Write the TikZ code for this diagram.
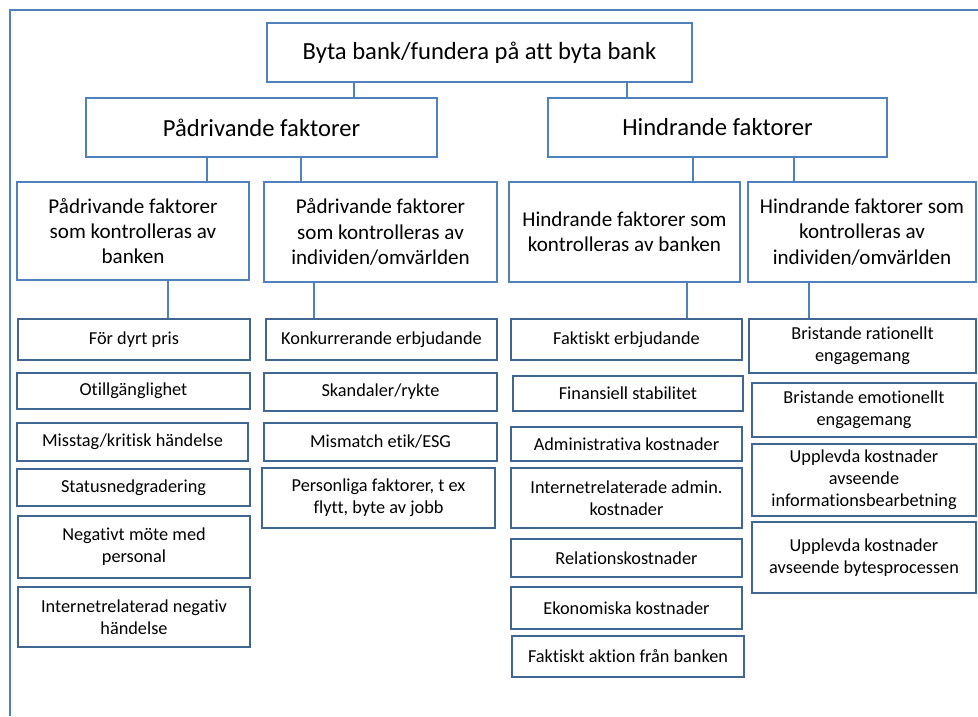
\documentclass[tikz,border=0pt]{standalone}
\usepackage{fontspec}
\setmainfont{Carlito}[Ligatures=NoCommon]
\usetikzlibrary{positioning}

\definecolor{kant}{HTML}{4F81BD}
\definecolor{morkkant}{HTML}{41668F}

\tikzset{
  link/.style={draw=kant, line width=0.9pt},
  rubrik/.style={draw=kant, line width=0.9pt, align=center, inner sep=0pt, font=\fontsize{17.5}{20}\selectfont},
  grupp/.style={draw=kant, line width=0.9pt, align=center, inner sep=0pt, font=\fontsize{15}{18}\selectfont},
  faktor/.style={draw=morkkant, line width=1.1pt, align=center, inner sep=0pt, font=\fontsize{13}{15.5}\selectfont},
}

\begin{document}
\begin{tikzpicture}[x=0.025cm, y=-0.025cm]
  % box from its corners: style, name, x1, y1, x2, y2, text
  \newcommand{\ruta}[7]{\node[#1, minimum width={(#5-#3)*0.025cm}, minimum height={(#6-#4)*0.025cm}] (#2) at ({(#3+#5)/2},{(#4+#6)/2}) {#7};}

  \useasboundingbox (0,0) rectangle (978,716);

  % Outer frame
  \draw[kant, line width=0.9pt] (10,716) -- (10,10) -- (978,10);

  % Top levels
  \ruta{rubrik}{byta}{267}{23}{692}{82}{Byta bank/fundera på att byta bank}
  \ruta{rubrik}{pad}{86}{98}{437}{157}{Pådrivande faktorer}
  \ruta{rubrik}{hin}{548}{98}{887}{157}{Hindrande faktorer}

  \ruta{grupp}{padbank}{17}{182}{249}{280}{Pådrivande faktorer\\som kontrolleras av\\banken}
  \ruta{grupp}{padind}{264}{182}{497}{282}{Pådrivande faktorer\\som kontrolleras av\\individen/omvärlden}
  \ruta{grupp}{hinbank}{509}{182}{740}{282}{Hindrande faktorer som\\kontrolleras av banken}
  \ruta{grupp}{hinind}{748}{182}{976}{282}{Hindrande faktorer som\\kontrolleras av\\individen/omvärlden}

  % Pådrivande, banken
  \ruta{faktor}{pris}{18}{319}{250}{360}{För dyrt pris}
  \ruta{faktor}{otill}{17}{373}{250}{409}{Otillgänglighet}
  \ruta{faktor}{misstag}{17}{423}{248}{461}{Misstag/kritisk händelse}
  \ruta{faktor}{status}{17}{469}{250}{506}{Statusnedgradering}
  \ruta{faktor}{mote}{18}{516}{250}{578}{Negativt möte med\\personal}
  \ruta{faktor}{inetneg}{18}{587}{250}{647}{Internetrelaterad negativ\\händelse}

  % Pådrivande, individen/omvärlden
  \ruta{faktor}{konk}{266}{319}{497}{360}{Konkurrerande erbjudande}
  \ruta{faktor}{skandal}{264}{373}{497}{411}{Skandaler/rykte}
  \ruta{faktor}{etik}{264}{423}{497}{461}{Mismatch etik/ESG}
  \ruta{faktor}{personlig}{262}{468}{495}{528}{Personliga faktorer, t ex\\flytt, byte av jobb}

  % Hindrande, banken
  \ruta{faktor}{erbj}{511}{319}{742}{360}{Faktiskt erbjudande}
  \ruta{faktor}{stab}{513}{376}{743}{411}{Finansiell stabilitet}
  \ruta{faktor}{admin}{511}{427}{742}{461}{Administrativa kostnader}
  \ruta{faktor}{inetadm}{511}{468}{742}{528}{Internetrelaterade admin.\\kostnader}
  \ruta{faktor}{relation}{511}{539}{742}{577}{Relationskostnader}
  \ruta{faktor}{ekon}{511}{587}{742}{629}{Ekonomiska kostnader}
  \ruta{faktor}{aktion}{512}{636}{744}{677}{Faktiskt aktion från banken}

  % Hindrande, individen/omvärlden
  \ruta{faktor}{ration}{749}{319}{976}{373}{Bristande rationellt\\engagemang}
  \ruta{faktor}{emotion}{752}{383}{976}{437}{Bristande emotionellt\\engagemang}
  \ruta{faktor}{info}{752}{444}{976}{516}{Upplevda kostnader\\avseende\\informationsbearbetning}
  \ruta{faktor}{process}{752}{522}{976}{593}{Upplevda kostnader\\avseende bytesprocessen}

  % Connectors
  \draw[link] (354,0 |- byta.south) -- (354,0 |- pad.north);
  \draw[link] (627,0 |- byta.south) -- (627,0 |- hin.north);
  \draw[link] (207,0 |- pad.south) -- (207,0 |- padbank.north);
  \draw[link] (301,0 |- pad.south) -- (301,0 |- padind.north);
  \draw[link] (693,0 |- hin.south) -- (693,0 |- hinbank.north);
  \draw[link] (794,0 |- hin.south) -- (794,0 |- hinind.north);
  \draw[link] (168,0 |- padbank.south) -- (168,0 |- pris.north);
  \draw[link] (314,0 |- padind.south) -- (314,0 |- konk.north);
  \draw[link] (687,0 |- hinbank.south) -- (687,0 |- erbj.north);
  \draw[link] (809,0 |- hinind.south) -- (809,0 |- ration.north);
\end{tikzpicture}
\end{document}
